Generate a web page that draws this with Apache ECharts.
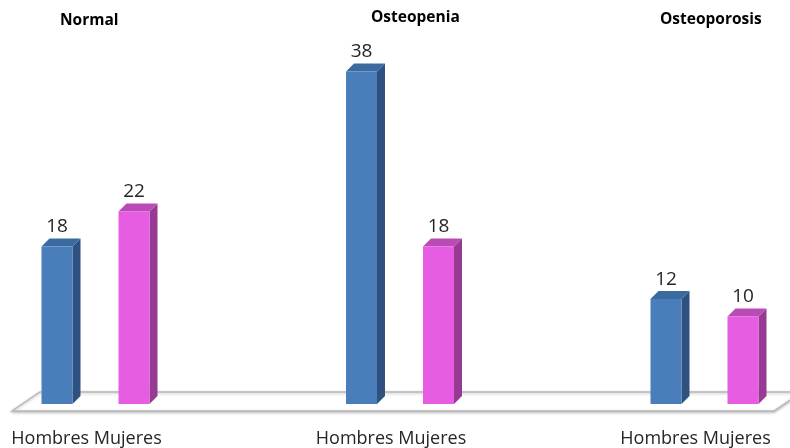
<!DOCTYPE html>
<html><head><meta charset="utf-8">
<script src="https://cdn.jsdelivr.net/npm/echarts@6/dist/echarts.min.js"></script>
<style>html,body{margin:0;padding:0;background:#fff}#c{width:790px;height:448px}</style>
</head><body><div id="c"></div>
<script>
const groups = ['Normal', 'Osteopenia', 'Osteoporosis'];
const groupLabel = 'Hombres Mujeres';
const seriesNames = ['Hombres', 'Mujeres'];
const hombres = [18, 38, 12];
const mujeres = [22, 18, 10];
const yMin = 0, yMax = 40;

const BAR_W = 31, DEPTH = 8, OFFSET = 38.5;
const palette = {
  Hombres: { front: '#4a7ebb', side: '#2f5180', top: '#3b6aa0' },
  Mujeres: { front: '#e65de2', side: '#973a94', top: '#b94ab6' }
};

function makeRender(name, off) {
  const c = palette[name];
  return function (params, api) {
    const idx = api.value(0), v = api.value(1);
    const p = api.coord([idx, v]);
    const b = api.coord([idx, 0]);
    const cx = p[0] + off;
    const l = cx - BAR_W / 2, r = cx + BAR_W / 2, t = p[1], bt = b[1], d = DEPTH;
    return {
      type: 'group',
      children: [
        { type: 'polygon', shape: { points: [[r, t], [r + d, t - d], [r + d, bt - d], [r, bt]] }, style: { fill: c.side } },
        { type: 'polygon', shape: { points: [[l, t], [l + d, t - d], [r + d, t - d], [r, t]] }, style: { fill: c.top } },
        { type: 'rect', shape: { x: l, y: t, width: BAR_W, height: bt - t }, style: { fill: c.front } },
        { type: 'text', style: { x: cx, y: t - d - 2, text: String(v), fill: '#262626', font: '19px "Open Sans", sans-serif', align: 'center', verticalAlign: 'bottom' } }
      ]
    };
  };
}

const titleStyle = { fontFamily: 'Open Sans', fontWeight: 'bold', fontSize: 15.5, color: '#000' };
const chart = echarts.init(document.getElementById('c'), null, { renderer: 'canvas' });
chart.setOption({
  animation: false,
  backgroundColor: '#ffffff',
  title: [
    { text: groups[0], left: 55, top: 8, textStyle: titleStyle },
    { text: groups[1], left: 366, top: 5, textStyle: titleStyle },
    { text: groups[2], left: 655, top: 7, textStyle: titleStyle }
  ],
  grid: { left: 95.5, right: 85.5, top: 54, bottom: 43, containLabel: false },
  xAxis: {
    type: 'category', data: groups, boundaryGap: false,
    axisLine: { show: false }, axisTick: { show: false }, splitLine: { show: false },
    axisLabel: { formatter: () => groupLabel, margin: 26, padding: [0, 18, 0, 0], fontFamily: 'Open Sans', fontSize: 18, color: '#262626' }
  },
  yAxis: { type: 'value', min: yMin, max: yMax, show: false },
  graphic: [
    { type: 'polygon', z: -10, shape: { points: [[12, 411], [40, 392], [802, 392], [774, 411]] },
      style: { fill: '#ffffff', stroke: '#b8b8b8', lineWidth: 1.5, shadowBlur: 3, shadowColor: 'rgba(0,0,0,0.25)', shadowOffsetY: 1 } }
  ],
  series: [
    { type: 'custom', name: seriesNames[0], renderItem: makeRender('Hombres', -OFFSET), clip: false, z: 5,
      encode: { x: 0, y: 1 }, data: hombres.map((v, i) => [i, v]) },
    { type: 'custom', name: seriesNames[1], renderItem: makeRender('Mujeres', OFFSET), clip: false, z: 5,
      encode: { x: 0, y: 1 }, data: mujeres.map((v, i) => [i, v]) }
  ]
});
</script>
</body></html>
